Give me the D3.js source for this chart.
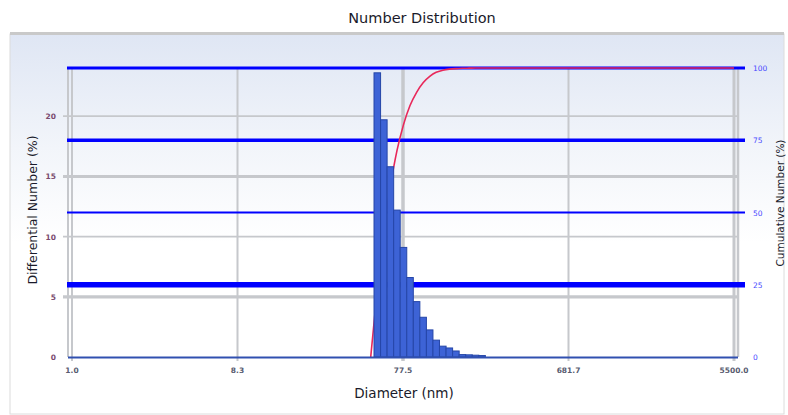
<!DOCTYPE html>
<html><head><meta charset="utf-8">
<script src="https://cdn.jsdelivr.net/npm/d3@7"></script>
<style>html,body{margin:0;padding:0;background:#fff;}svg{display:block;}</style>
</head><body>
<svg id="c" width="788" height="415"></svg>
<script>
// ---- data ----
const binEdgesNm = [50.86, 55.39, 60.31, 65.68, 71.52, 77.88, 84.81, 92.35, 100.56, 109.5, 119.2, 129.9, 141.4, 154.0, 167.7, 182.6, 198.9, 216.6];
const differentialPct = [23.6, 19.7, 15.8, 12.2, 9.1, 6.6, 4.6, 3.3, 2.25, 1.4, 0.9, 0.75, 0.5, 0.2, 0.18, 0.15, 0.12];
const cumulativeDiamNm = [48.73, 53.09, 57.77, 62.95, 68.52, 74.66, 81.25, 88.54, 96.34, 105.0, 114.2, 124.5, 135.5, 147.6, 160.6, 175.1, 190.5, 207.6, 5500];
const cumulativePct = [0, 23.6, 43.3, 59.1, 71.3, 80.4, 87.0, 91.6, 94.9, 97.1, 98.5, 99.2, 99.6, 99.8, 99.9, 99.95, 100, 100, 100];
const xTickLabels = ["1.0", "8.3", "77.5", "681.7", "5500.0"];
const leftTicks = [0, 5, 10, 15, 20];
const rightTicks = [0, 25, 50, 75, 100];
const xDomain = [1, 5500];
const leftDomain = [0, 24];
const rightDomain = [0, 100];

// ---- styles (not data) ----
const leftGridWidths = {5: 3.2, 10: 1.6, 15: 3, 20: 1.6};
const rightGridWidths = {25: 5.5, 50: 2, 75: 3.5, 100: 3};
const vGridWidths = [2, 2, 3.5, 2, 3];

const svg = d3.select("#c");
const F = "'DejaVu Sans', Verdana, sans-serif";

// panel background
const defs = svg.append("defs");
const g1 = defs.append("linearGradient").attr("id", "bg").attr("x1", 0).attr("y1", 0).attr("x2", 0).attr("y2", 1);
g1.append("stop").attr("offset", "0%").attr("stop-color", "#dfe6f4");
g1.append("stop").attr("offset", "30%").attr("stop-color", "#f2f5fa");
g1.append("stop").attr("offset", "55%").attr("stop-color", "#ffffff");
g1.append("stop").attr("offset", "100%").attr("stop-color", "#ffffff");

svg.append("rect").attr("x", 10).attr("y", 34).attr("width", 774).attr("height", 380)
  .attr("fill", "url(#bg)").attr("stroke", "#dcdcdc").attr("stroke-width", 1);
svg.append("line").attr("x1", 10).attr("x2", 784).attr("y1", 33.5).attr("y2", 33.5)
  .attr("stroke", "#c9c9c9").attr("stroke-width", 3);

// title
svg.append("text").attr("x", 422).attr("y", 23).attr("text-anchor", "middle")
  .attr("font-family", F).attr("font-size", 14.5).attr("fill", "#1a1a2a").text("Number Distribution");

// scales
const plotL = 72, plotR = 734, plotT = 68, plotB = 357;
const x = d3.scaleLog().domain(xDomain).range([plotL, plotR]);
const yL = d3.scaleLinear().domain(leftDomain).range([plotB, plotT]);
const yR = d3.scaleLinear().domain(rightDomain).range([plotB, plotT]);

// x tick positions: the software places its labelled ticks evenly along the axis
const xTickVals = xTickLabels.map((_, i) => x.invert(plotL + i * (plotR - plotL) / (xTickLabels.length - 1)));

// vertical grid
svg.append("g").selectAll("line").data(xTickVals).join("line")
  .attr("x1", d => x(d)).attr("x2", d => x(d)).attr("y1", plotT).attr("y2", plotB + 4)
  .attr("stroke", "#c6c8cc").attr("stroke-width", (d, i) => vGridWidths[i]);
// frame lines
svg.append("line").attr("x1", plotL - 4).attr("x2", plotL - 4).attr("y1", plotT).attr("y2", plotB)
  .attr("stroke", "#c6c8cc").attr("stroke-width", 2);
svg.append("line").attr("x1", plotR + 4).attr("x2", plotR + 4).attr("y1", plotT).attr("y2", plotB)
  .attr("stroke", "#c6c8cc").attr("stroke-width", 2.5);

// left gray grid
svg.append("g").selectAll("line").data(leftTicks.filter(d => d > 0)).join("line")
  .attr("x1", plotL - 9).attr("x2", plotR + 4).attr("y1", d => yL(d)).attr("y2", d => yL(d))
  .attr("stroke", "#c6c8cc").attr("stroke-width", d => leftGridWidths[d]);

// right blue grid
svg.append("g").selectAll("line").data(rightTicks.filter(d => d > 0)).join("line")
  .attr("x1", plotL - 5).attr("x2", plotR + 11).attr("y1", d => yR(d)).attr("y2", d => yR(d))
  .attr("stroke", "#0000ff").attr("stroke-width", d => rightGridWidths[d]);

// cumulative curve (behind bars)
const cumData = cumulativeDiamNm.map((d, i) => [d, cumulativePct[i]]);
svg.append("path").datum(cumData)
  .attr("d", d3.line().x(d => x(d[0])).y(d => yR(d[1])).curve(d3.curveMonotoneX))
  .attr("fill", "none").attr("stroke", "#e8285a").attr("stroke-width", 1.6);

// bars
svg.append("g").selectAll("rect").data(differentialPct).join("rect")
  .attr("x", (d, i) => x(binEdgesNm[i]))
  .attr("width", (d, i) => x(binEdgesNm[i + 1]) - x(binEdgesNm[i]))
  .attr("y", d => yL(d)).attr("height", d => yL(0) - yL(d))
  .attr("fill", "#3d63d6").attr("stroke", "#2546a8").attr("stroke-width", 1);

// baseline
svg.append("line").attr("x1", plotL - 4).attr("x2", plotR + 4).attr("y1", plotB + 0.5).attr("y2", plotB + 0.5)
  .attr("stroke", "#3050b0").attr("stroke-width", 2);

// left tick labels
svg.append("g").selectAll("text").data(leftTicks).join("text")
  .attr("x", 56).attr("y", d => yL(d) + 3).attr("text-anchor", "end")
  .attr("font-family", F).attr("font-size", 7.5).attr("font-weight", "bold").attr("fill", "#7a4a6e").text(d => d);

// right tick labels
svg.append("g").selectAll("text").data(rightTicks).join("text")
  .attr("x", 753).attr("y", d => yR(d) + 3).attr("text-anchor", "start")
  .attr("font-family", F).attr("font-size", 7.5).attr("fill", "#4848ff").text(d => d);

// bottom tick labels
svg.append("g").selectAll("text").data(xTickVals).join("text")
  .attr("x", d => x(d)).attr("y", 373).attr("text-anchor", "middle")
  .attr("font-family", F).attr("font-size", 7.5).attr("font-weight", "bold").attr("fill", "#585c70").text((d, i) => xTickLabels[i]);

// axis titles
svg.append("text").attr("x", 404).attr("y", 398).attr("text-anchor", "middle")
  .attr("font-family", F).attr("font-size", 13.5).attr("fill", "#1a1a2a").text("Diameter (nm)");
svg.append("text").attr("transform", "translate(37,210) rotate(-90)").attr("text-anchor", "middle")
  .attr("font-family", F).attr("font-size", 12.5).attr("fill", "#1a1a2a").text("Differential Number (%)");
svg.append("text").attr("transform", "translate(784,203) rotate(-90)").attr("text-anchor", "middle")
  .attr("font-family", F).attr("font-size", 10.5).attr("fill", "#1a1a2a").text("Cumulative Number (%)");
</script>
</body></html>
